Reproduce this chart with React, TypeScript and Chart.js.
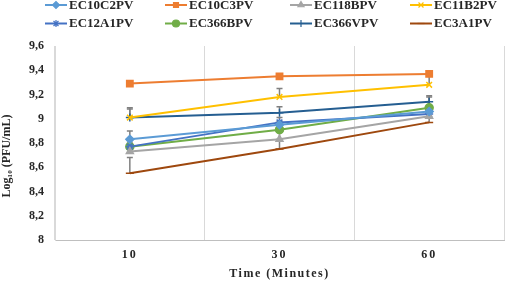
import React, { useEffect, useRef } from 'react';
import { Chart, registerables } from 'chart.js';
import { drawPoint } from 'chart.js/helpers';

Chart.register(...registerables);

// ---- data ----
const categories = ['10', '30', '60'];
const seriesNames = ['EC10C2PV', 'EC10C3PV', 'EC118BPV', 'EC11B2PV', 'EC12A1PV', 'EC366BPV', 'EC366VPV', 'EC3A1PV'];
const EC10C2PV = [8.83, 8.95, 9.06];
const EC10C3PV = [9.29, 9.35, 9.37];
const EC118BPV = [8.73, 8.83, 9.02];
const EC11B2PV = [9.01, 9.18, 9.28];
const EC12A1PV = [8.77, 8.97, 9.04];
const EC366BPV = [8.77, 8.91, 9.09];
const EC366VPV = [9.01, 9.05, 9.14];
const EC3A1PV = [8.55, 8.75, 8.97];
const seriesValues = [EC10C2PV, EC10C3PV, EC118BPV, EC11B2PV, EC12A1PV, EC366BPV, EC366VPV, EC3A1PV];

// plus-direction error amounts
const errEC10C2PV = [0.07, 0.03, 0.03];
const errEC10C3PV = [0.01, 0.01, 0.01];
const errEC118BPV = [0.03, 0.1, 0.05];
const errEC11B2PV = [0.07, 0.07, 0.09];
const errEC12A1PV = [0.03, 0.04, 0.04];
const errEC366BPV = [0.05, 0.05, 0.09];
const errEC366VPV = [0.08, 0.05, 0.05];
const errEC3A1PV = [0.13, 0.08, 0.05];
const seriesErrors = [errEC10C2PV, errEC10C3PV, errEC118BPV, errEC11B2PV, errEC12A1PV, errEC366BPV, errEC366VPV, errEC3A1PV];

const yTickLabels = ['8', '8,2', '8,4', '8,6', '8,8', '9', '9,2', '9,4', '9,6'];
const xTitle = 'Time (Minutes)';
const yTitle = 'Log\u2081\u2080 (PFU/mL)';

// ---- styles ----
const colors = ['#5B9BD5', '#ED7D31', '#A5A5A5', '#FFC000', '#4472C4', '#70AD47', '#255E91', '#9E480E'];
const pointStyles = ['rectRot', 'rect', 'triangle', 'crossRot', 'star', 'circle', 'cross', 'line'];
const pointRadii = [4, 4.5, 4, 4, 4, 4, 4, 4];
const FONT = "'Liberation Serif', 'Times New Roman', serif";
const TEXT = '#262626';

const errorBarPlugin = {
  id: 'errorBars',
  beforeDatasetsDraw(chart: any) {
    const ctx = chart.ctx;
    const ys = chart.scales.y;
    ctx.save();
    ctx.strokeStyle = '#808080';
    ctx.lineWidth = 1.5;
    chart.data.datasets.forEach((ds: any, i: number) => {
      const meta = chart.getDatasetMeta(i);
      const errs = seriesErrors[i];
      meta.data.forEach((pt: any, j: number) => {
        const v = ds.data[j];
        const e = errs[j];
        const x = pt.x;
        const y0 = ys.getPixelForValue(v);
        const y1 = ys.getPixelForValue(v + e);
        ctx.beginPath();
        ctx.moveTo(x, y0);
        ctx.lineTo(x, y1);
        ctx.moveTo(x - 3, y1);
        ctx.lineTo(x + 3, y1);
        ctx.stroke();
      });
    });
    ctx.restore();
  },
};

const legendPlugin = {
  id: 'customLegend',
  afterDraw(chart: any) {
    const ctx = chart.ctx;
    const colX = [45, 165, 290, 410];
    const rowY = [5, 23.5];
    ctx.save();
    chart.data.datasets.forEach((ds: any, i: number) => {
      const x = colX[i % 4];
      const y = rowY[Math.floor(i / 4)];
      ctx.strokeStyle = ds.borderColor;
      ctx.fillStyle = ds.borderColor;
      ctx.lineWidth = 2;
      ctx.beginPath();
      ctx.moveTo(x, y);
      ctx.lineTo(x + 22, y);
      ctx.stroke();
      ctx.lineWidth = 1.2;
      drawPoint(ctx, { pointStyle: ds.pointStyle, radius: 3.5, rotation: 0, borderWidth: 1.2 } as any, x + 11, y);
      ctx.fillStyle = TEXT;
      ctx.font = `bold 13px ${FONT}`;
      ctx.textAlign = 'left';
      ctx.textBaseline = 'middle';
      ctx.fillText(ds.label, x + 24, y + 0.5);
    });
    ctx.restore();
  },
};

const tweakPlugin = {
  id: 'tweaks',
  afterLayout(chart: any) {
    const ctx = chart.ctx;
    const xs = chart.scales.x;
    if (xs && !xs.__patched) {
      xs.__patched = true;
      const dl = xs.drawLabels.bind(xs);
      xs.drawLabels = (area: any) => {
        ctx.save();
        ctx.letterSpacing = '2px';
        dl(area);
        ctx.restore();
      };
      const dt = xs.drawTitle.bind(xs);
      xs.drawTitle = () => {
        ctx.save();
        ctx.letterSpacing = '1.5px';
        dt();
        ctx.restore();
      };
    }
    const ysc = chart.scales.y;
    if (ysc && !ysc.__patched) {
      ysc.__patched = true;
      const dt = ysc.drawTitle.bind(ysc);
      ysc.drawTitle = () => {
        ctx.save();
        ctx.translate(0, 13);
        dt();
        ctx.restore();
      };
    }
  },
};

export default function App() {
  const ref = useRef<HTMLCanvasElement | null>(null);
  useEffect(() => {
    if (!ref.current) return;
    const chart = new Chart(ref.current, {
      type: 'line',
      data: {
        labels: categories,
        datasets: seriesNames.map((name, i) => ({
          label: name,
          data: seriesValues[i],
          borderColor: colors[i],
          backgroundColor: colors[i],
          pointBackgroundColor: colors[i],
          pointBorderColor: colors[i],
          pointStyle: pointStyles[i] as any,
          pointRadius: pointRadii[i],
          pointBorderWidth: 1.5,
          borderWidth: 2,
          tension: 0,
          fill: false,
        })),
      },
      options: {
        animation: false,
        responsive: false,
        layout: { padding: { top: 46, right: 2, left: 0, bottom: 0 } },
        plugins: {
          legend: { display: false },
          tooltip: { enabled: false },
        },
        scales: {
          x: {
            type: 'category',
            offset: true,
            afterFit: (s: any) => { s.height = 41; },
            grid: { display: true, offset: true, color: '#d9d9d9', drawTicks: false, lineWidth: 1 },
            border: { display: true, color: '#bfbfbf', width: 1 },
            ticks: { color: TEXT, font: { family: FONT, size: 12, weight: 'bold' }, padding: 8 },
            title: { display: true, text: xTitle, color: TEXT, font: { family: FONT, size: 12, weight: 'bold' }, padding: { top: 0, bottom: 0 } },
          },
          y: {
            min: 8,
            max: 9.6,
            afterFit: (s: any) => { s.width = 55; },
            grid: { display: false, drawTicks: false },
            border: { display: true, color: '#d9d9d9', width: 1 },
            ticks: {
              stepSize: 0.2,
              color: TEXT,
              font: { family: FONT, size: 12, weight: 'bold' },
              padding: 11,
              callback: (_v: any, i: number) => yTickLabels[i],
            },
            title: { display: true, text: yTitle, color: TEXT, font: { family: FONT, size: 12, weight: 'bold' }, padding: { top: 0, bottom: 0 } },
          },
        },
      },
      plugins: [errorBarPlugin, legendPlugin, tweakPlugin],
    } as any);
    return () => chart.destroy();
  }, []);
  return (
    <div style={{ position: 'fixed', left: 0, top: 0, width: 510, height: 281 }}>
      <canvas ref={ref} width={510} height={281} style={{ display: 'block' }} />
    </div>
  );
}
